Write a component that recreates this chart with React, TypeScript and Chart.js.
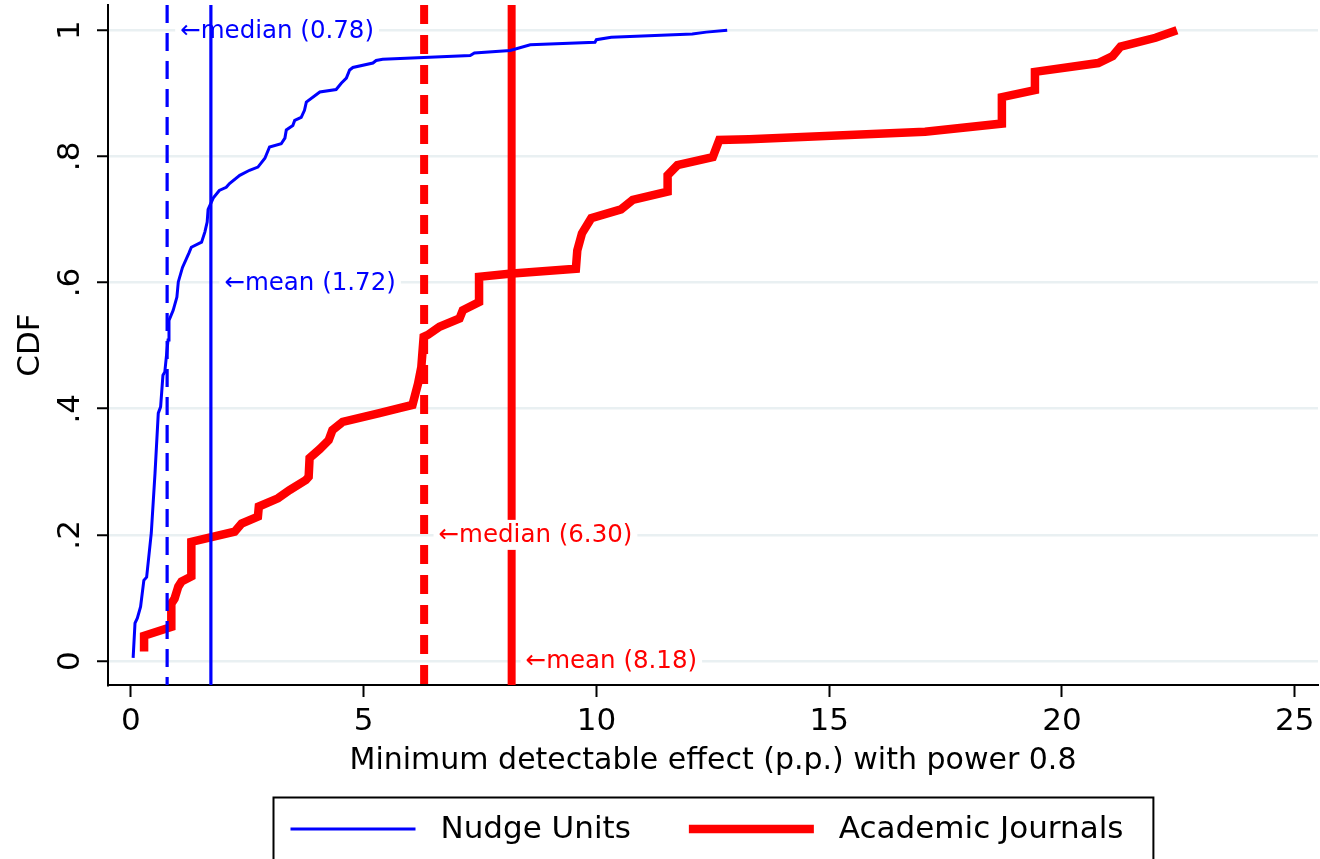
import React, { useEffect, useRef } from "react";
import { Chart, registerables } from "chart.js";

Chart.register(...registerables);

// ---- Data ----
const SERIES_LABELS = ["Nudge Units", "Academic Journals"];

const NUDGE_X = [0.05, 0.09, 0.14, 0.21, 0.28, 0.34, 0.44, 0.52, 0.59, 0.64, 0.69, 0.73, 0.8, 0.82, 0.91, 0.99, 1.02, 1.11, 1.25, 1.3, 1.52, 1.59, 1.64, 1.66, 1.77, 1.9, 2.05, 2.12, 2.34, 2.55, 2.73, 2.88, 2.98, 3.23, 3.31, 3.34, 3.48, 3.52, 3.66, 3.73, 3.77, 4.06, 4.41, 4.52, 4.63, 4.7, 4.77, 5.2, 5.27, 5.41, 7.29, 7.38, 8.15, 8.58, 9.97, 10.0, 10.32, 12.06, 12.36, 12.81];
const NUDGE_Y = [0.005, 0.06, 0.068, 0.086, 0.128, 0.133, 0.203, 0.298, 0.393, 0.403, 0.453, 0.458, 0.509, 0.54, 0.556, 0.577, 0.601, 0.624, 0.647, 0.656, 0.664, 0.68, 0.696, 0.716, 0.734, 0.746, 0.751, 0.757, 0.77, 0.778, 0.783, 0.797, 0.815, 0.82, 0.829, 0.842, 0.849, 0.857, 0.862, 0.873, 0.886, 0.902, 0.906, 0.916, 0.924, 0.937, 0.941, 0.948, 0.952, 0.954, 0.96, 0.964, 0.968, 0.977, 0.981, 0.985, 0.989, 0.994, 0.997, 1.0];

const JOURNAL_X = [0.285, 0.285, 0.87, 0.87, 0.94, 1.02, 1.09, 1.3, 1.3, 2.23, 2.38, 2.73, 2.75, 3.16, 3.41, 3.76, 3.82, 3.84, 4.06, 4.25, 4.33, 4.55, 5.34, 5.77, 6.05, 6.17, 6.24, 6.29, 6.38, 6.63, 7.06, 7.13, 7.48, 7.48, 8.13, 9.56, 9.59, 9.69, 9.89, 10.53, 10.78, 11.53, 11.53, 11.74, 12.5, 12.64, 13.28, 17.06, 18.71, 18.71, 19.42, 19.42, 20.78, 21.09, 21.26, 22.01, 22.47];
const JOURNAL_Y = [0.015, 0.04, 0.054, 0.091, 0.099, 0.118, 0.126, 0.134, 0.189, 0.205, 0.218, 0.229, 0.245, 0.258, 0.271, 0.287, 0.292, 0.322, 0.336, 0.35, 0.366, 0.379, 0.393, 0.401, 0.406, 0.44, 0.466, 0.514, 0.517, 0.53, 0.543, 0.556, 0.569, 0.609, 0.614, 0.622, 0.651, 0.678, 0.702, 0.716, 0.731, 0.744, 0.77, 0.786, 0.799, 0.826, 0.827, 0.839, 0.852, 0.894, 0.905, 0.934, 0.948, 0.959, 0.974, 0.988, 1.0];

const NUDGE_MEDIAN = 0.78;
const NUDGE_MEAN = 1.72;
const JOURNAL_MEDIAN = 6.3;
const JOURNAL_MEAN = 8.18;

const X_TICKS = [0, 5, 10, 15, 20, 25];
const Y_TICKS = [0, 0.2, 0.4, 0.6, 0.8, 1];
const Y_TICK_LABELS = ["0", ".2", ".4", ".6", ".8", "1"];

const X_TITLE = "Minimum detectable effect (p.p.) with power 0.8";
const Y_TITLE = "CDF";

const ANNOT_TEXT = ["\u2190median (0.78)", "\u2190mean (1.72)", "\u2190median (6.30)", "\u2190mean (8.18)"];
const ANNOT_X = [1.06, 2.01, 6.61, 8.48];
const ANNOT_Y = [1.0, 0.6, 0.2, 0.0];

// axis ranges
const X_MIN = -0.49;
const X_MAX = 25.5;
const Y_MIN = -0.038;
const Y_MAX = 1.04;

const BLUE = "#0000ff";
const RED = "#ff0000";
const FONT = '"DejaVu Sans", "Liberation Sans", sans-serif';

const toPts = (xs: number[], ys: number[]) => xs.map((x, i) => ({ x, y: ys[i] }));
const vline = (x: number) => [
  { x, y: Y_MAX },
  { x, y: Y_MIN },
];

const ANNOT_COLORS = [BLUE, BLUE, RED, RED];
const ANNOT_AFTER_INDEX = 3; // draw notes after the red group is drawn
const LEGEND_DATASETS = [0, 3];

const annotPlugin = {
  id: "notes",
  afterDatasetDraw(chart: any, args: any) {
    if (args.index !== ANNOT_AFTER_INDEX) return;
    const ctx = chart.ctx;
    const xs = chart.scales.x;
    const ys = chart.scales.y;
    ctx.save();
    ctx.font = `24.5px ${FONT}`;
    ctx.textBaseline = "middle";
    ctx.textAlign = "left";
    ANNOT_TEXT.forEach((t, i) => {
      const px = xs.getPixelForValue(ANNOT_X[i]);
      const py = ys.getPixelForValue(ANNOT_Y[i]);
      const w = ctx.measureText(t).width;
      ctx.fillStyle = "#ffffff";
      ctx.fillRect(px - 5, py - 15, w + 10, 30);
      ctx.fillStyle = ANNOT_COLORS[i];
      ctx.fillText(t, px, py + 1);
    });
    ctx.restore();
  },
};

const legendPlugin = {
  id: "boxLegend",
  afterDraw(chart: any) {
    const ctx = chart.ctx;
    const { left, right } = chart.chartArea;
    const cx = (left + right) / 2;
    ctx.save();
    ctx.font = `31px ${FONT}`;
    const items = LEGEND_DATASETS.map((i) => chart.data.datasets[i]);
    const widths = items.map((d: any) => ctx.measureText(d.label).width);
    const padL = 17, padR = 30, sample = 125, gapS = 25, gapItem = 58;
    const total =
      padL + padR + items.length * (sample + gapS) + widths.reduce((a: number, b: number) => a + b, 0) + gapItem * (items.length - 1);
    const bx = Math.round(cx - total / 2) + 0.5;
    const by = 797.5;
    ctx.strokeStyle = "#000";
    ctx.lineWidth = 2;
    ctx.strokeRect(bx, by, total, 120);
    let x = bx + padL;
    const y = 829;
    items.forEach((d: any, k: number) => {
      ctx.beginPath();
      ctx.strokeStyle = d.borderColor;
      ctx.lineWidth = d.borderWidth;
      ctx.lineCap = "butt";
      ctx.moveTo(x, y);
      ctx.lineTo(x + sample, y);
      ctx.stroke();
      x += sample + gapS;
      ctx.fillStyle = "#000";
      ctx.textBaseline = "middle";
      ctx.textAlign = "left";
      ctx.fillText(d.label, x, y + 1);
      x += widths[k] + gapItem;
    });
    ctx.restore();
  },
};

export default function App() {
  const ref = useRef<HTMLCanvasElement>(null);

  useEffect(() => {
    const canvas = ref.current;
    if (!canvas) return;
    const chart = new Chart(canvas, {
      type: "line",
      data: {
        datasets: [
          {
            label: SERIES_LABELS[0],
            data: toPts(NUDGE_X, NUDGE_Y),
            borderColor: BLUE,
            borderWidth: 3,
            pointRadius: 0,
            tension: 0,
            fill: false,
          },
          {
            label: "Nudge median",
            data: vline(NUDGE_MEDIAN),
            borderColor: BLUE,
            borderWidth: 3.2,
            borderDash: [18, 10],
            pointRadius: 0,
            fill: false,
          },
          {
            label: "Nudge mean",
            data: vline(NUDGE_MEAN),
            borderColor: BLUE,
            borderWidth: 3.2,
            pointRadius: 0,
            fill: false,
          },
          {
            label: SERIES_LABELS[1],
            data: toPts(JOURNAL_X, JOURNAL_Y),
            borderColor: RED,
            borderWidth: 8.5,
            pointRadius: 0,
            tension: 0,
            fill: false,
          },
          {
            label: "Journal median",
            data: vline(JOURNAL_MEDIAN),
            borderColor: RED,
            borderWidth: 8,
            borderDash: [19, 11],
            pointRadius: 0,
            fill: false,
          },
          {
            label: "Journal mean",
            data: vline(JOURNAL_MEAN),
            borderColor: RED,
            borderWidth: 8,
            pointRadius: 0,
            fill: false,
          },
        ],
      },
      options: {
        responsive: false,
        animation: false,
        events: [],
        layout: { padding: { top: 5, right: 2, bottom: 79, left: 0 } },
        plugins: {
          legend: { display: false },
          tooltip: { enabled: false },
        },
        scales: {
          x: {
            type: "linear",
            min: X_MIN,
            max: X_MAX,
            afterBuildTicks: (s: any) => {
              s.ticks = X_TICKS.map((v) => ({ value: v }));
            },
            afterFit: (s: any) => {
              s.height = 95;
              s.paddingLeft = 0;
              s.paddingRight = 0;
            },
            grid: {
              drawOnChartArea: false,
              drawTicks: true,
              tickLength: 12,
              tickWidth: 2,
              tickColor: "#000",
            },
            border: { display: true, color: "#000", width: 2 },
            ticks: {
              color: "#000",
              font: { family: FONT, size: 31, lineHeight: 1 },
              padding: 9,
              maxRotation: 0,
              autoSkip: false,
              callback: (v: any) => String(v),
            },
            title: {
              display: true,
              text: X_TITLE,
              color: "#000",
              font: { family: FONT, size: 30, lineHeight: 1 },
              padding: { top: 0, bottom: 4 },
            },
          },
          y: {
            type: "linear",
            min: Y_MIN,
            max: Y_MAX,
            afterBuildTicks: (s: any) => {
              s.ticks = Y_TICKS.map((v) => ({ value: v }));
            },
            afterFit: (s: any) => {
              s.width = 108;
              s.paddingTop = 0;
              s.paddingBottom = 0;
            },
            grid: {
              color: "#e9f0f2",
              lineWidth: 2.5,
              drawTicks: true,
              tickLength: 11,
              tickWidth: 2,
              tickColor: "#000",
            },
            border: { display: true, color: "#000", width: 2 },
            ticks: {
              color: "#000",
              font: { family: FONT, size: 31, lineHeight: 1 },
              padding: 11,
              minRotation: 90,
              maxRotation: 90,
              crossAlign: "center",
              autoSkip: false,
              callback: (_v: any, i: number) => Y_TICK_LABELS[i],
            },
            title: {
              display: true,
              text: Y_TITLE,
              color: "#000",
              font: { family: FONT, size: 31, lineHeight: 1 },
              padding: { top: 15, bottom: 0 },
            },
          },
        },
      },
      plugins: [annotPlugin, legendPlugin],
    } as any);
    return () => chart.destroy();
  }, []);

  return (
    <div style={{ position: "fixed", left: 0, top: 0, width: 1320, height: 859, background: "#fff" }}>
      <canvas ref={ref} width={1320} height={859} style={{ width: 1320, height: 859, display: "block" }} />
    </div>
  );
}
